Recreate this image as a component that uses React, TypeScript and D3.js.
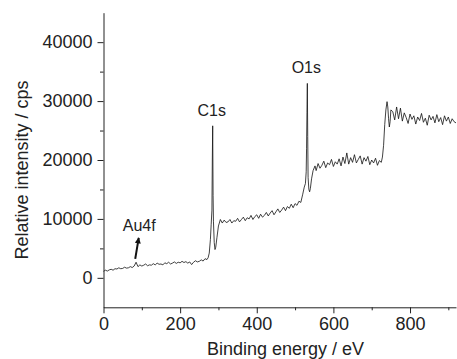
import React, { useRef, useEffect } from 'react';
import { select, scaleLinear, axisLeft, axisBottom, line } from 'd3';

// survey spectrum, [binding energy (eV), counts (cps)]
const spectrum: [number, number][] = [
    [0, 1100], [5, 1300], [10, 1150], [15, 1350], [20, 1450], [25, 1300], [30, 1550], [35, 1500], [40, 1700], [45, 1550],
    [50, 1600], [55, 1800], [60, 1650], [65, 1700], [70, 1900], [75, 1750], [80, 2000], [85, 2650], [90, 1900], [95, 2200],
    [100, 2000], [105, 2150], [110, 2350], [115, 2050], [120, 2200], [125, 2150], [130, 2400], [135, 2200], [140, 2500], [145, 2300],
    [150, 2350], [155, 2200], [160, 2550], [165, 2400], [170, 2650], [175, 2350], [180, 2500], [185, 2700], [190, 2450], [195, 2650],
    [200, 2550], [205, 2800], [210, 2600], [215, 2750], [220, 2500], [225, 2700], [230, 2250], [235, 2650], [240, 2900], [245, 2700],
    [250, 2800], [255, 3050], [260, 2850], [265, 3250], [270, 3100],
    // C1s
    [273, 3400], [276, 4200], [279, 6500], [281, 9000], [283, 11500], [284, 20000], [285, 25800], [286, 14000], [287, 9500],
    [289, 6000], [291, 4800], [293, 5200], [296, 6800], [300, 8800], [305, 9900],
    [310, 9300], [315, 9800], [320, 9400], [325, 9500], [330, 9900], [335, 9300], [340, 9700], [345, 9600], [350, 10100], [355, 9500],
    [360, 9900], [365, 10300], [370, 9700], [375, 10200], [380, 10000], [385, 10600], [390, 9900], [395, 10400], [400, 10700], [405, 10100],
    [410, 10800], [415, 10300], [420, 10600], [425, 11100], [430, 10500], [435, 11000], [440, 11400], [445, 10700], [450, 11200], [455, 11700],
    [460, 11100], [465, 11500], [470, 12000], [475, 11400], [480, 12100], [485, 11800], [490, 12500], [495, 11900], [500, 12600], [505, 12300],
    [510, 13000], [515, 12800],
    // O1s
    [520, 14200], [524, 15400], [527, 16000], [529, 18000], [530, 22000], [531, 28000], [532, 33000], [533, 24000], [534, 17000],
    [536, 15000], [538, 14600], [540, 15200], [543, 16800], [547, 18200], [552, 19000],
    [555, 18200], [560, 19400], [565, 18600], [570, 19100], [575, 19800], [580, 18700], [585, 19500], [590, 19200], [595, 20100], [600, 18900],
    [605, 19700], [610, 19300], [615, 20200], [620, 19000], [625, 20500], [630, 19400], [635, 21200], [640, 19300], [645, 20400], [650, 19600],
    [655, 20900], [660, 19500], [665, 20100], [670, 20700], [675, 19300], [680, 20400], [685, 19800], [690, 20600], [695, 19200], [700, 20000],
    [705, 19500], [710, 20300], [715, 19100], [720, 19900], [725, 19600],
    // edge above 730 eV
    [728, 20500], [731, 22500], [734, 26000], [737, 28500], [740, 29900], [742, 29000], [744, 27000], [746, 25600], [748, 26500], [750, 28500],
    [755, 28200], [760, 26800], [765, 29000], [770, 27000], [775, 28800], [780, 26600], [785, 28000], [790, 27200], [795, 26200], [800, 27800],
    [805, 26900], [810, 27500], [815, 26100], [820, 27300], [825, 26700], [830, 27900], [835, 26400], [840, 27100], [845, 25900], [850, 27600],
    [855, 26800], [860, 27400], [865, 26300], [870, 27700], [875, 26500], [880, 27200], [885, 26000], [890, 27500], [895, 26600], [900, 27300],
    [905, 26200], [910, 27000], [915, 26500], [920, 26300],
];

const xTicks = [0, 200, 400, 600, 800];
const xMinorTicks = [100, 300, 500, 700, 900];
const yTicks = [0, 10000, 20000, 30000, 40000];
const yMinorTicks = [5000, 15000, 25000, 35000];

const peakNames = ['C1s', 'O1s'];
const peakEnergies = [285, 532];
const peakCounts = [25800, 33000];

const auLabel = 'Au4f';
const auEnergy = 88;
const auCounts = 2700;

const W = 457;
const H = 359;
const FONT = '"Liberation Sans", Arial, Helvetica, sans-serif';

export default function App() {
    const svgRef = useRef<SVGSVGElement | null>(null);

    useEffect(() => {
        const svg = select(svgRef.current);
        svg.selectAll('*').remove();

        const x = scaleLinear().domain([0, 920]).range([103.5, 456]);
        const y = scaleLinear().domain([-5000, 45000]).range([307.3, 12.7]);

        const defs = svg.append('defs');
        defs.append('marker')
            .attr('id', 'arrow')
            .attr('viewBox', '0 0 10 10')
            .attr('refX', 9)
            .attr('refY', 5)
            .attr('markerWidth', 7)
            .attr('markerHeight', 6)
            .attr('markerUnits', 'userSpaceOnUse')
            .attr('orient', 'auto')
            .append('path')
            .attr('d', 'M0,0 L10,5 L0,10 z')
            .attr('fill', '#111');

        // spectrum
        const spec = line<[number, number]>()
            .x((d) => x(d[0]))
            .y((d) => y(d[1]));
        svg.append('path')
            .datum(spectrum)
            .attr('d', spec)
            .attr('fill', 'none')
            .attr('stroke', '#111')
            .attr('stroke-width', 0.8)
            .attr('stroke-linejoin', 'miter');

        // axes
        const gx = svg.append('g').attr('transform', `translate(0,${y(-5000)})`);
        gx.call(axisBottom(x).tickValues(xTicks).tickSize(6).tickSizeOuter(0).tickPadding(3.5).tickFormat((d) => String(d)) as any);
        const gxm = svg.append('g').attr('transform', `translate(0,${y(-5000)})`);
        gxm.call(axisBottom(x).tickValues(xMinorTicks).tickSize(3).tickFormat(() => '') as any);
        gxm.select('.domain').remove();

        const gy = svg.append('g').attr('transform', `translate(${x(0)},0)`);
        gy.call(axisLeft(y).tickValues(yTicks).tickSize(6).tickSizeOuter(0).tickPadding(5).tickFormat((d) => String(d)) as any);
        const gym = svg.append('g').attr('transform', `translate(${x(0)},0)`);
        gym.call(axisLeft(y).tickValues(yMinorTicks).tickSize(3.5).tickFormat(() => '') as any);
        gym.select('.domain').remove();

        svg.selectAll('.tick text')
            .attr('font-family', FONT)
            .attr('font-size', 18)
            .attr('fill', '#222');
        svg.selectAll('.domain, .tick line').attr('stroke', '#222').attr('stroke-width', 1);

        // axis titles
        svg.append('text')
            .attr('x', 285.5)
            .attr('y', 355)
            .attr('text-anchor', 'middle')
            .attr('font-family', FONT)
            .attr('font-size', 18)
            .attr('fill', '#222')
            .text('Binding energy / eV');
        svg.append('text')
            .attr('transform', `translate(28,170) rotate(-90)`)
            .attr('text-anchor', 'middle')
            .attr('font-family', FONT)
            .attr('font-size', 18)
            .attr('fill', '#222')
            .text('Relative intensity / cps');

        // peak labels
        peakNames.forEach((name, i) => {
            svg.append('text')
                .attr('x', x(peakEnergies[i]) - 1)
                .attr('y', y(peakCounts[i]) - 10)
                .attr('text-anchor', 'middle')
                .attr('font-family', FONT)
                .attr('font-size', 16)
                .attr('fill', '#222')
                .text(name);
        });

        // Au4f arrow + label
        svg.append('line')
            .attr('x1', x(auEnergy) - 2)
            .attr('y1', y(auCounts) - 3)
            .attr('x2', x(auEnergy) + 1.5)
            .attr('y2', y(auCounts) - 24)
            .attr('stroke', '#111')
            .attr('stroke-width', 2)
            .attr('marker-end', 'url(#arrow)');
        svg.append('text')
            .attr('x', x(auEnergy) + 2)
            .attr('y', y(auCounts) - 31)
            .attr('text-anchor', 'middle')
            .attr('font-family', FONT)
            .attr('font-size', 16)
            .attr('fill', '#222')
            .text(auLabel);
    }, []);

    return (
        <div>
            <style>{'body{margin:0}'}</style>
            <svg ref={svgRef} width={W} height={H} style={{ display: 'block' }} />
        </div>
    );
}
